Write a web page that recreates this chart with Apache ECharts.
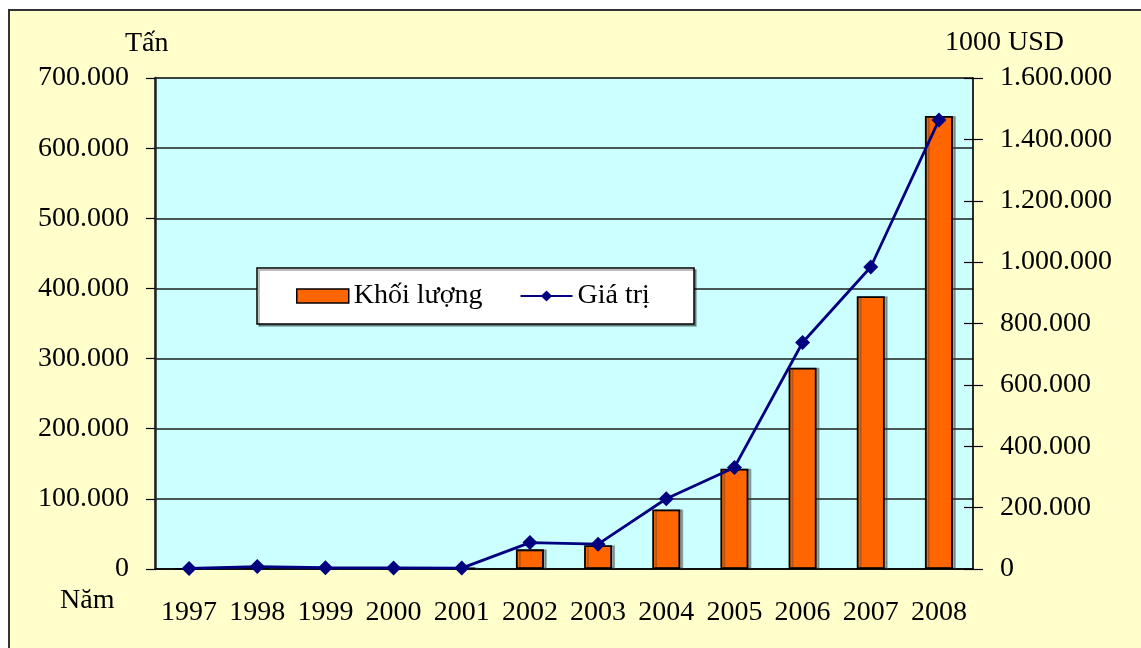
<!DOCTYPE html>
<html>
<head>
<meta charset="utf-8">
<script src="https://cdn.jsdelivr.net/npm/echarts@6/dist/echarts.min.js"></script>
<style>
  html, body { margin: 0; padding: 0; background: #ffffff; overflow: hidden; width: 1141px; height: 648px; }
  #frame {
    position: absolute; left: 8px; top: 9px; width: 1140px; height: 645px;
    background: #FFFFCC; border-left: 2px solid #333; border-top: 2px solid #333;
  }
  #chart { position: absolute; left: 0; top: 0; width: 1141px; height: 648px; }
</style>
</head>
<body>
<div id="frame"></div>
<div id="chart"></div>
<script>
// Years on the category axis
const years = ['1997', '1998', '1999', '2000', '2001', '2002', '2003', '2004', '2005', '2006', '2007', '2008'];
// Volume (tấn), left axis
const khoiLuong = [500, 2500, 1200, 900, 1500, 28000, 34000, 85000, 143000, 287000, 389000, 646000];
// Value (1000 USD), right axis
const giaTri = [2000, 8000, 4000, 3500, 3000, 86000, 81000, 229000, 331000, 738000, 984000, 1463000];

const FONT = '"Liberation Serif", "Times New Roman", serif';
const fmt = v => String(v).replace(/\B(?=(\d{3})+(?!\d))/g, '.');

const chart = echarts.init(document.getElementById('chart'));
chart.setOption({
  backgroundColor: 'transparent',
  animation: false,
  textStyle: { fontFamily: FONT, color: '#000' },
  grid: {
    left: 155, right: 168, top: 78, bottom: 79,
    show: true, backgroundColor: '#CCFFFF', borderColor: '#8a8a8a', borderWidth: 1.5
  },
  legend: {
    left: 296, top: 282, z: 100,
    itemWidth: 52, itemHeight: 14, itemGap: 37,
    padding: 0,
    textStyle: { fontFamily: FONT, fontSize: 28, color: '#000' },
    data: [
      { name: 'Khối lượng', icon: 'rect', itemStyle: { borderColor: '#000', borderWidth: 1.5, shadowBlur: 0, shadowOffsetX: 0 } },
      { name: 'Giá trị' }
    ]
  },
  xAxis: [
    {
      type: 'category', data: years,
      axisLine: { lineStyle: { color: '#000', width: 1.5 } },
      axisTick: { length: 9, lineStyle: { color: '#000', width: 1.2 } },
      axisLabel: { interval: 0, fontSize: 28, color: '#000', fontFamily: FONT, margin: 30 }
    },
    {
      type: 'category', data: years, position: 'bottom',
      axisLine: { show: false },
      axisTick: { inside: true, length: 4, lineStyle: { color: '#000', width: 1.2 } },
      axisLabel: { show: false }
    }
  ],
  yAxis: [
    {
      type: 'value', min: 0, max: 700000, interval: 100000, position: 'left',
      axisLine: { show: true, lineStyle: { color: '#222', width: 2.5 } },
      axisTick: { show: true, length: 9, lineStyle: { color: '#000', width: 1.2 } },
      axisLabel: { fontSize: 28, color: '#000', fontFamily: FONT, margin: 26, formatter: fmt },
      splitLine: { lineStyle: { color: '#1e1e1e', width: 1.5 } }
    },
    {
      type: 'value', min: 0, max: 1600000, interval: 200000, position: 'right',
      axisLine: { show: true, lineStyle: { color: '#000', width: 1.5 } },
      axisTick: { show: true, length: 10, lineStyle: { color: '#000', width: 1.2 } },
      axisLabel: { fontSize: 28, color: '#000', fontFamily: FONT, margin: 27, formatter: fmt },
      splitLine: { show: false }
    },
    {
      type: 'value', min: 0, max: 1600000, interval: 200000, position: 'right',
      axisLine: { show: false },
      axisTick: { show: true, inside: true, length: 9, lineStyle: { color: '#000', width: 1.2 } },
      axisLabel: { show: false },
      splitLine: { show: false }
    }
  ],
  graphic: [
    { type: 'text', left: 125, top: 30, style: { text: 'Tấn', font: '28px ' + FONT, fill: '#000' } },
    { type: 'text', left: 945, top: 29, style: { text: '1000 USD', font: '28px ' + FONT, fill: '#000' } },
    { type: 'text', left: 60, top: 587, style: { text: 'Năm', font: '28px ' + FONT, fill: '#000' } },
    {
      type: 'rect', z: 90,
      shape: { x: 257, y: 268, width: 437, height: 56 },
      style: { fill: '#fff', stroke: '#000', lineWidth: 1.5,
               shadowColor: 'rgba(0,0,0,0.35)', shadowOffsetX: 2, shadowOffsetY: 2, shadowBlur: 0 }
    }
  ],
  series: [
    {
      name: 'Khối lượng', type: 'bar', data: khoiLuong,
      xAxisIndex: 0, yAxisIndex: 0, barWidth: 28,
      itemStyle: {
        color: '#FF6600', borderColor: '#000', borderWidth: 1.8,
        shadowColor: 'rgba(60,60,60,0.4)', shadowOffsetX: 3, shadowOffsetY: 0, shadowBlur: 0
      }
    },
    {
      name: 'Giá trị', type: 'line', data: giaTri,
      xAxisIndex: 0, yAxisIndex: 1,
      symbol: 'diamond', symbolSize: 15,
      lineStyle: { color: '#000080', width: 2.8 },
      itemStyle: { color: '#000080' }
    }
  ]
});
</script>
</body>
</html>
